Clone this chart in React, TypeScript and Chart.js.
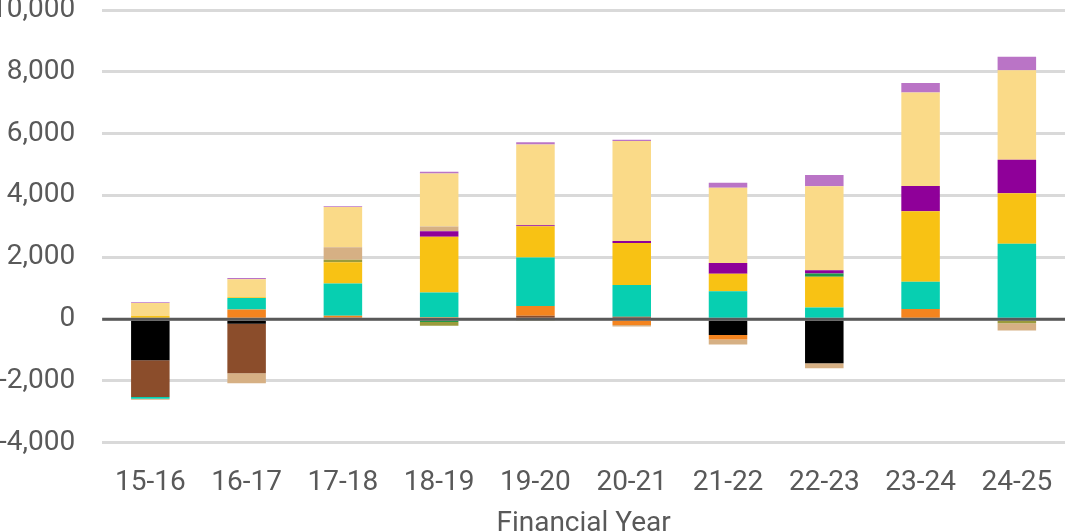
import React, { useEffect, useRef } from "react";
import { Chart, registerables } from "chart.js";

Chart.register(...registerables);

const categories = ["15-16", "16-17", "17-18", "18-19", "19-20", "20-21", "21-22", "22-23", "23-24", "24-25"];

const blackSeries = [-1330, -150, 0, 0, 0, 0, -510, -1425, 0, 0];
const brownSeries = [-1190, -1600, 50, 0, 110, 80, 0, 0, 0, 0];
const orangeSeries = [0, 315, 60, 60, 315, -190, -150, 0, 325, 0];
const tealSeries = [-55, 365, 1040, 800, 1565, 1025, 905, 380, 885, 2440];
const yellowSeries = [100, 30, 690, 1805, 1015, 1360, 560, 990, 2280, 1635];
const greenSeries = [0, 0, 0, -90, 0, 0, 0, 110, 0, 0];
const oliveSeries = [0, 0, 85, -120, -60, 0, 0, 0, 0, -130];
const purpleSeries = [0, 0, 0, 180, 30, 65, 355, 100, 820, 1080];
const tanSeries = [-30, -325, 400, 150, 0, -50, -160, -160, 0, -240];
const lightYellowSeries = [420, 580, 1300, 1720, 2615, 3230, 2430, 2715, 3025, 2895];
const orchidSeries = [30, 40, 30, 55, 75, 40, 160, 370, 305, 435];

const yTicks = [-4000, -2000, 0, 2000, 4000, 6000, 8000, 10000];

const seriesList = [
  { label: "Black", data: blackSeries, color: "#000000" },
  { label: "Brown", data: brownSeries, color: "#8B4D2B" },
  { label: "Orange", data: orangeSeries, color: "#F4841F" },
  { label: "Teal", data: tealSeries, color: "#07CFB1" },
  { label: "Yellow", data: yellowSeries, color: "#F8C214" },
  { label: "Green", data: greenSeries, color: "#1F9A48" },
  { label: "Olive", data: oliveSeries, color: "#9B9B3C" },
  { label: "Purple", data: purpleSeries, color: "#8F0099" },
  { label: "Tan", data: tanSeries, color: "#D6B084" },
  { label: "Light yellow", data: lightYellowSeries, color: "#FADA88" },
  { label: "Orchid", data: orchidSeries, color: "#BA74C6" },
];

const TEXT = "#595959";
const FONT = "Roboto, 'Liberation Sans', sans-serif";

const zeroLinePlugin = {
  id: "zeroLine",
  afterDatasetsDraw(chart: any) {
    const { ctx, chartArea, scales } = chart;
    const y = scales.y.getPixelForValue(0);
    ctx.save();
    ctx.strokeStyle = TEXT;
    ctx.lineWidth = 3;
    ctx.beginPath();
    ctx.moveTo(chartArea.left, y);
    ctx.lineTo(chartArea.right, y);
    ctx.stroke();
    ctx.restore();
  },
};

const clearPadding = (scale: any) => {
  scale.paddingLeft = 0;
  scale.paddingRight = 0;
  scale.paddingTop = 0;
  scale.paddingBottom = 0;
};

export default function App() {
  const ref = useRef<HTMLCanvasElement | null>(null);
  useEffect(() => {
    if (!ref.current) return;
    const chart = new Chart(ref.current, {
      type: "bar",
      data: {
        labels: categories,
        datasets: seriesList.map((s) => ({
          label: s.label,
          data: s.data,
          backgroundColor: s.color,
          borderWidth: 0,
        })),
      },
      options: {
        animation: false,
        responsive: false,
        devicePixelRatio: 1,
        layout: { padding: { top: 20, right: 6, left: 0, bottom: 0 } },
        datasets: { bar: { barPercentage: 0.4, categoryPercentage: 1 } },
        plugins: { legend: { display: false }, tooltip: { enabled: false } },
        scales: {
          x: {
            stacked: true,
            grid: { display: false, drawTicks: true, tickLength: 23 },
            border: { display: false },
            afterFit: clearPadding,
            ticks: { color: TEXT, font: { family: FONT, size: 28 }, padding: 0, maxRotation: 0 },
            title: {
              display: true,
              text: "Financial Year",
              color: TEXT,
              font: { family: FONT, size: 28 },
              padding: { top: 8, bottom: 1 },
            },
          },
          y: {
            stacked: true,
            min: -4000,
            max: 10000,
            afterFit: clearPadding,
            afterBuildTicks: (axis: any) => {
              axis.ticks = yTicks.map((v) => ({ value: v }));
            },
            grid: {
              color: "#D9D9D9",
              lineWidth: 3,
              drawTicks: true,
              tickLength: 27,
              tickColor: "rgba(0,0,0,0)",
            },
            border: { display: false },
            ticks: {
              color: TEXT,
              font: { family: FONT, size: 28 },
              padding: 0,
              callback: (v: any) => Number(v).toLocaleString("en-US"),
            },
          },
        },
      },
      plugins: [zeroLinePlugin],
    });
    return () => chart.destroy();
  }, []);
  return (
    <div
      style={{
        position: "fixed",
        left: 0,
        top: 0,
        width: 1066,
        height: 532,
        overflow: "hidden",
        background: "#ffffff",
      }}
    >
      <canvas
        ref={ref}
        width={1080}
        height={552}
        style={{ position: "absolute", left: -9, top: -10, width: 1080, height: 552 }}
      />
    </div>
  );
}
